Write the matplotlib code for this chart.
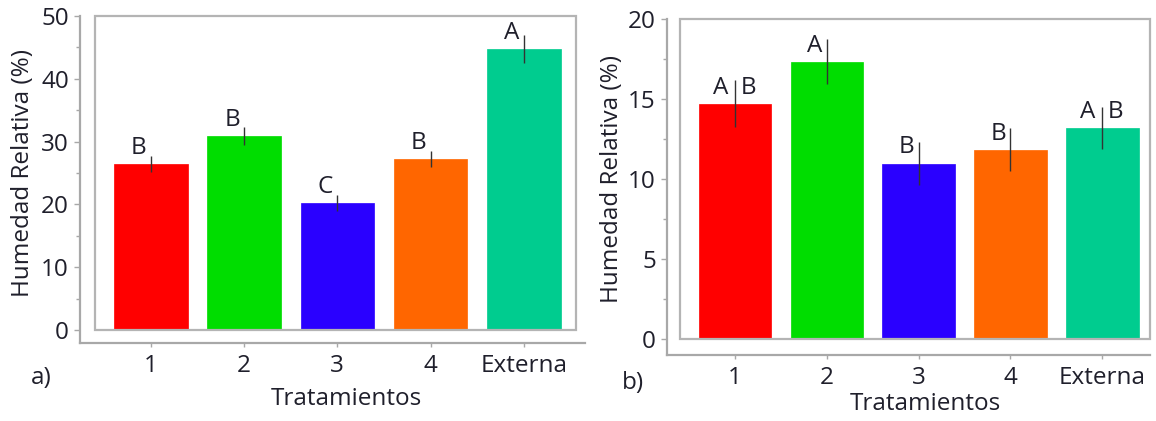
import matplotlib
matplotlib.use("Agg")
import matplotlib.pyplot as plt
from matplotlib.patches import Rectangle
from matplotlib.ticker import MultipleLocator

# data
categories = ["1", "2", "3", "4", "Externa"]
colors = ["#FF0000", "#00DD00", "#2A00FF", "#FF6600", "#00CC8F"]

hr_a = [26.4, 30.9, 20.2, 27.2, 44.75]
err_a = [1.3, 1.5, 1.3, 1.25, 2.25]
grp_a = ["B", "B", "C", "B", "A"]

hr_b = [14.7, 17.33, 10.96, 11.83, 13.2]
err_b = [1.48, 1.4, 1.35, 1.35, 1.3]
grp_b = ["A B", "A", "B", "B", "A B"]

plt.rcParams["font.family"] = ["Open Sans", "DejaVu Sans"]
TXT = "#1f1f2b"
FRAME = "#b4b4b4"
AXL = "#a8a8a8"
FS = 17.5

W, H = 1156, 421
fig = plt.figure(figsize=(W / 100, H / 100), dpi=100)


def px_axes(left, top, right, bottom):
    return fig.add_axes([left / W, (H - bottom) / H, (right - left) / W, (bottom - top) / H])


def panel(ax, vals, errs, groups, ymax, major, minor, xlim, off_left, off_bottom,
          right_px_extra, tag, tag_xy, xlab_xy, ylab_x):
    x = range(len(categories))
    ax.bar(x, vals, width=0.79, color=colors, edgecolor=colors, linewidth=0.5, zorder=2)
    ax.errorbar(x, vals, yerr=errs, fmt="none", ecolor="#333333", elinewidth=1.0,
                capsize=0, zorder=3)
    for i, (v, e, g) in enumerate(zip(vals, errs, groups)):
        if " " in g:
            ax.annotate(g.replace(" ", "  "), xy=(i, v), xytext=(0, 3),
                        textcoords="offset points", ha="center", va="bottom",
                        fontsize=FS, color=TXT, zorder=4)
        else:
            ax.annotate(g, xy=(i, v), xytext=(-3, 3), textcoords="offset points",
                        ha="right", va="bottom", fontsize=FS, color=TXT, zorder=4)

    ax.set_xlim(*xlim)
    ax.set_ylim(0, ymax)
    ax.set_xticks(list(x))
    ax.set_xticklabels(categories)
    ax.yaxis.set_major_locator(MultipleLocator(major))
    ax.yaxis.set_minor_locator(MultipleLocator(minor))

    # box around the plotting area
    ax.add_patch(Rectangle((0, 0), 1, 1, transform=ax.transAxes, fill=False,
                           edgecolor=FRAME, linewidth=1.6, clip_on=False, zorder=5))

    # detached axis lines, JMP style
    bb = ax.get_position()
    ax_w = bb.width * W
    ax_h = bb.height * H
    x_per_px = (xlim[1] - xlim[0]) / ax_w
    y_per_px = ymax / ax_h
    ax.spines["top"].set_visible(False)
    ax.spines["right"].set_visible(False)
    ax.spines["left"].set_position(("outward", off_left * 0.72))
    ax.spines["bottom"].set_position(("outward", off_bottom * 0.72))
    ax.spines["left"].set_bounds(-off_bottom * y_per_px, ymax)
    ax.spines["bottom"].set_bounds(xlim[0] - off_left * x_per_px,
                                   xlim[1] + right_px_extra * x_per_px)
    for s in ("left", "bottom"):
        ax.spines[s].set_color(AXL)
        ax.spines[s].set_linewidth(1.6)

    ax.tick_params(axis="y", which="major", length=4, width=1, color=AXL,
                   labelsize=FS, labelcolor=TXT, pad=4)
    ax.tick_params(axis="y", which="minor", length=3, width=1, color=AXL)
    ax.tick_params(axis="x", length=3, width=1, color=AXL, labelsize=FS,
                   labelcolor=TXT, pad=5)

    ax.set_xlabel("Tratamientos", fontsize=FS, color=TXT)
    ax.xaxis.set_label_coords(*xlab_xy)
    ax.set_ylabel("Humedad Relativa (%)", fontsize=FS, color=TXT)
    ax.yaxis.set_label_coords(ylab_x, 0.5)

    fig.text(tag_xy[0] / W, 1 - tag_xy[1] / H, tag, fontsize=FS, color=TXT,
             ha="center", va="center")


ax_a = px_axes(95, 16, 576, 330)
panel(ax_a, hr_a, err_a, grp_a, 50, 10, 5, (-0.6, 4.56), 15, 13, 9,
      "a)", (41, 378), (0.522, -0.18), -0.125)

ax_b = px_axes(680, 19, 1150, 339)
panel(ax_b, hr_b, err_b, grp_b, 20, 5, 2.5, (-0.6, 4.52), 13, 16, 0,
      "b)", (633, 383), (0.523, -0.165), -0.119)

fig.savefig("out.png", dpi=100)
